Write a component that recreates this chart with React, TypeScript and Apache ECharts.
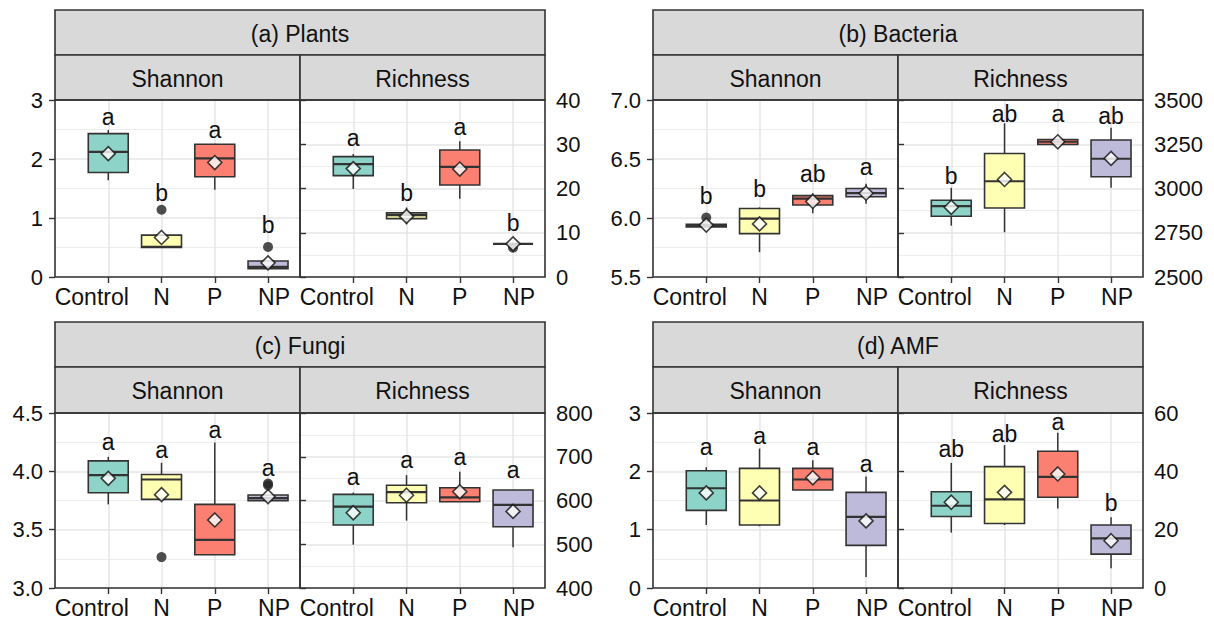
import React, { useEffect, useRef } from 'react';
import * as echarts from 'echarts';

const treatments = ['Control', 'N', 'P', 'NP'];
const fills = ['#8DD3C7', '#FFFFB3', '#FB8072', '#BEBADA'];
const metrics = ['Shannon', 'Richness'];
const panelTitles = ['(a) Plants', '(b) Bacteria', '(c) Fungi', '(d) AMF'];

// each box: [lower whisker, Q1, median, Q3, upper whisker]
const plantsShannonBox = [[1.64, 1.77, 2.12, 2.43, 2.49], [0.5, 0.5, 0.51, 0.71, 0.72], [1.48, 1.7, 2.01, 2.25, 2.26], [0.14, 0.14, 0.17, 0.27, 0.28]];
const plantsShannonMean = [2.09, 0.67, 1.94, 0.24];
const plantsShannonOut = [[2, 1.14], [4, 0.51]];
const plantsShannonLetter = ['a', 'b', 'a', 'b'];
const plantsShannonLetterY = [2.72, 1.43, 2.49, 0.88];

const plantsRichBox = [[19.9, 22.9, 25.5, 27.2, 27.8], [11.9, 13.2, 14.0, 14.5, 15.7], [17.7, 20.8, 24.9, 28.7, 30.7], [7.5, 7.5, 7.5, 7.5, 7.5]];
const plantsRichMean = [24.5, 13.7, 24.4, 7.5];
const plantsRichOut = [[4, 6.6]];
const plantsRichLetter = ['a', 'b', 'a', 'b'];
const plantsRichLetterY = [31.3, 19.0, 34.0, 12.1];

const bactShannonBox = [[5.925, 5.925, 5.936, 5.947, 5.947], [5.71, 5.868, 5.995, 6.08, 6.09], [6.04, 6.11, 6.165, 6.19, 6.21], [6.12, 6.18, 6.21, 6.25, 6.29]];
const bactShannonMean = [5.94, 5.95, 6.14, 6.21];
const bactShannonOut = [[1, 6.004]];
const bactShannonLetter = ['b', 'b', 'ab', 'a'];
const bactShannonLetterY = [6.185, 6.25, 6.377, 6.434];

const bactRichBox = [[2790, 2843, 2900, 2934, 3004], [2753, 2890, 3041, 3198, 3368], [3249, 3249, 3264, 3277, 3277], [3004, 3066, 3168, 3274, 3343]];
const bactRichMean = [2894, 3051, 3264, 3170];
const bactRichOut: number[][] = [];
const bactRichLetter = ['b', 'ab', 'a', 'ab'];
const bactRichLetterY = [3070, 3422, 3422, 3408];

const fungiShannonBox = [[3.717, 3.817, 3.967, 4.09, 4.124], [3.76, 3.76, 3.93, 3.973, 4.073], [3.285, 3.285, 3.413, 3.717, 4.247], [3.749, 3.749, 3.77, 3.797, 3.797]];
const fungiShannonMean = [3.94, 3.8, 3.583, 3.783];
const fungiShannonOut = [[2, 3.265], [4, 3.88], [4, 3.895]];
const fungiShannonLetter = ['a', 'a', 'a', 'a'];
const fungiShannonLetterY = [4.252, 4.181, 4.358, 4.025];

const fungiRichBox = [[499, 544, 586, 614, 618], [554, 595, 619, 635, 658], [597, 597, 607, 629, 666], [493, 540, 590, 624, 624]];
const fungiRichMean = [572, 612, 620, 575];
const fungiRichOut: number[][] = [];
const fungiRichLetter = ['a', 'a', 'a', 'a'];
const fungiRichLetterY = [654, 692, 700, 669];

const amfShannonBox = [[1.08, 1.33, 1.71, 2.01, 2.07], [1.06, 1.08, 1.5, 2.05, 2.39], [1.68, 1.68, 1.86, 2.05, 2.19], [0.19, 0.73, 1.22, 1.64, 1.91]];
const amfShannonMean = [1.63, 1.63, 1.89, 1.15];
const amfShannonOut: number[][] = [];
const amfShannonLetter = ['a', 'a', 'a', 'a'];
const amfShannonLetterY = [2.41, 2.6, 2.41, 2.12];

const amfRichBox = [[19.0, 24.5, 28.2, 33.0, 42.9], [21.6, 22.1, 30.4, 41.6, 49.0], [27.3, 31.1, 38.1, 46.9, 53.2], [6.8, 11.6, 17.0, 21.6, 24.3]];
const amfRichMean = [29.4, 32.8, 39.1, 16.2];
const amfRichOut: number[][] = [];
const amfRichLetter = ['ab', 'ab', 'a', 'b'];
const amfRichLetterY = [47.5, 52.7, 56.9, 29.0];

// y scales [min, max, interval]
const plantsShannonScale = [0, 3, 1];
const plantsRichScale = [0, 40, 10];
const bactShannonScale = [5.5, 7.0, 0.5];
const bactRichScale = [2500, 3500, 250];
const fungiShannonScale = [3.0, 4.5, 0.5];
const fungiRichScale = [400, 800, 100];
const amfShannonScale = [0, 3, 1];
const amfRichScale = [0, 60, 20];

const subPanels = [
  { box: plantsShannonBox, mean: plantsShannonMean, out: plantsShannonOut, letter: plantsShannonLetter, letterY: plantsShannonLetterY, scale: plantsShannonScale, dec: 0 },
  { box: plantsRichBox, mean: plantsRichMean, out: plantsRichOut, letter: plantsRichLetter, letterY: plantsRichLetterY, scale: plantsRichScale, dec: 0 },
  { box: bactShannonBox, mean: bactShannonMean, out: bactShannonOut, letter: bactShannonLetter, letterY: bactShannonLetterY, scale: bactShannonScale, dec: 1 },
  { box: bactRichBox, mean: bactRichMean, out: bactRichOut, letter: bactRichLetter, letterY: bactRichLetterY, scale: bactRichScale, dec: 0 },
  { box: fungiShannonBox, mean: fungiShannonMean, out: fungiShannonOut, letter: fungiShannonLetter, letterY: fungiShannonLetterY, scale: fungiShannonScale, dec: 1 },
  { box: fungiRichBox, mean: fungiRichMean, out: fungiRichOut, letter: fungiRichLetter, letterY: fungiRichLetterY, scale: fungiRichScale, dec: 0 },
  { box: amfShannonBox, mean: amfShannonMean, out: amfShannonOut, letter: amfShannonLetter, letterY: amfShannonLetterY, scale: amfShannonScale, dec: 0 },
  { box: amfRichBox, mean: amfRichMean, out: amfRichOut, letter: amfRichLetter, letterY: amfRichLetterY, scale: amfRichScale, dec: 0 },
];

// layout (pixels)
const panelX = [55, 653, 55, 653];
const rowTops = [
  { title: 10, sub: 55, plot: 100, bottom: 277 },
  { title: 322, sub: 367, plot: 413, bottom: 588 },
];
const subW = 245;

const FONT = '"Liberation Sans", Arial, Helvetica, sans-serif';
const DARK = '#333333';
const TEXT = '#111111';
const GRID_MAJOR = '#e6e6e6';
const GRID_MINOR = '#eeeeee';

function buildOption() {
  const grid: any[] = [];
  const xAxis: any[] = [];
  const yAxis: any[] = [];
  const series: any[] = [];
  const graphic: any[] = [];
  const labelRich = {
    c: { fontSize: 23, fontFamily: FONT, color: TEXT, padding: [0, 33, 0, 0] },
    n: { fontSize: 23, fontFamily: FONT, color: TEXT },
    np: { fontSize: 23, fontFamily: FONT, color: TEXT, padding: [0, 0, 0, 12] },
  };
  const richKeys = ['c', 'n', 'n', 'np'];

  for (let p = 0; p < 4; p++) {
    const row = rowTops[p < 2 ? 0 : 1];
    const x0 = panelX[p];
    const totalW = subW * 2;
    graphic.push({
      type: 'rect', z: 100,
      shape: { x: x0, y: row.title, width: totalW, height: row.sub - row.title },
      style: { fill: '#d9d9d9', stroke: DARK, lineWidth: 1.6 },
    });
    graphic.push({
      type: 'text', z: 101, x: x0 + totalW / 2, y: (row.title + row.sub) / 2 + 1,
      style: { text: panelTitles[p], fontSize: 23, fontFamily: FONT, fill: TEXT, align: 'center', verticalAlign: 'middle', textAlign: 'center', textVerticalAlign: 'middle' },
    });
    for (let s = 0; s < 2; s++) {
      const gi = p * 2 + s;
      const sp = subPanels[gi];
      const left = x0 + s * subW;
      graphic.push({
        type: 'rect', z: 100,
        shape: { x: left, y: row.sub, width: subW, height: row.plot - row.sub },
        style: { fill: '#d9d9d9', stroke: DARK, lineWidth: 1.6 },
      });
      graphic.push({
        type: 'text', z: 101, x: left + subW / 2, y: (row.sub + row.plot) / 2 + 1,
        style: { text: metrics[s], fontSize: 23, fontFamily: FONT, fill: TEXT, align: 'center', verticalAlign: 'middle', textAlign: 'center', textVerticalAlign: 'middle' },
      });
      graphic.push({
        type: 'rect', z: 100,
        shape: { x: left, y: row.plot, width: subW, height: row.bottom - row.plot },
        style: { fill: 'none', stroke: DARK, lineWidth: 1.6 },
      });

      grid.push({ left, top: row.plot, width: subW, height: row.bottom - row.plot, show: false });
      xAxis.push({
        type: 'value', gridIndex: gi, min: 0, max: 4.6, interval: 1,
        axisLine: { show: false },
        axisTick: { show: true, customValues: [1, 2, 3, 4], length: 6, lineStyle: { color: DARK, width: 1.4 } },
        axisLabel: {
          customValues: [1, 2, 3, 4],
          formatter: (v: number) => (Number.isInteger(v) && v >= 1 && v <= 4 ? `{${richKeys[v - 1]}|${treatments[v - 1]}}` : ''),
          fontSize: 23, fontFamily: FONT, color: TEXT, margin: 8,
          rich: labelRich,
        },
        splitLine: { show: true, lineStyle: { color: GRID_MAJOR, width: 1.5 } },
      });
      const [mn, mx, iv] = sp.scale;
      const dec = sp.dec;
      yAxis.push({
        type: 'value', gridIndex: gi, min: mn, max: mx, interval: iv,
        position: s === 0 ? 'left' : 'right',
        axisLine: { show: false },
        axisTick: { show: true, length: 6, lineStyle: { color: DARK, width: 1.4 } },
        axisLabel: {
          formatter: (v: number) => v.toFixed(dec),
          fontSize: 22, fontFamily: FONT, color: TEXT, margin: s === 0 ? 12 : 11,
        },
        splitLine: { show: true, lineStyle: { color: GRID_MAJOR, width: 1.5 } },
        minorTick: { show: false, splitNumber: 2 },
        minorSplitLine: { show: true, lineStyle: { color: GRID_MINOR, width: 1 } },
      });

      const boxData = sp.box.map((b, i) => [i + 1, ...b]);
      series.push({
        type: 'custom', xAxisIndex: gi, yAxisIndex: gi, z: 3,
        encode: { x: 0, y: [1, 2, 3, 4, 5] },
        data: boxData,
        renderItem: (params: any, api: any) => {
          const xv = api.value(0);
          const lo = api.coord([xv, api.value(1)]);
          const q1 = api.coord([xv, api.value(2)]);
          const med = api.coord([xv, api.value(3)]);
          const q3 = api.coord([xv, api.value(4)]);
          const hi = api.coord([xv, api.value(5)]);
          const hw = api.size([0.75, 0])[0] / 2;
          const fill = fills[Math.round(xv) - 1];
          return {
            type: 'group',
            children: [
              { type: 'line', shape: { x1: lo[0], y1: lo[1], x2: q1[0], y2: q1[1] }, style: { stroke: DARK, lineWidth: 1.5 } },
              { type: 'line', shape: { x1: q3[0], y1: q3[1], x2: hi[0], y2: hi[1] }, style: { stroke: DARK, lineWidth: 1.5 } },
              { type: 'rect', shape: { x: q3[0] - hw, y: q3[1], width: hw * 2, height: q1[1] - q3[1] }, style: { fill, stroke: DARK, lineWidth: 1.6 } },
              { type: 'line', shape: { x1: med[0] - hw, y1: med[1], x2: med[0] + hw, y2: med[1] }, style: { stroke: DARK, lineWidth: 2.2 } },
            ],
          };
        },
      });
      series.push({
        type: 'scatter', xAxisIndex: gi, yAxisIndex: gi, z: 4,
        symbol: 'circle', symbolSize: 10,
        itemStyle: { color: '#222222' },
        data: sp.out,
      });
      series.push({
        type: 'scatter', xAxisIndex: gi, yAxisIndex: gi, z: 5,
        symbol: 'diamond', symbolSize: 14,
        itemStyle: { color: '#ffffff', borderColor: '#111111', borderWidth: 1.6 },
        data: sp.mean.map((m, i) => [i + 1, m]),
      });
      const letters = sp.letter;
      series.push({
        type: 'custom', xAxisIndex: gi, yAxisIndex: gi, z: 6,
        data: sp.letterY.map((y, i) => [i + 1, y]),
        renderItem: (params: any, api: any) => {
          const pt = api.coord([api.value(0), api.value(1)]);
          return {
            type: 'text', x: pt[0], y: pt[1],
            style: { text: letters[params.dataIndex], fontSize: 23, fontFamily: FONT, fill: TEXT, align: 'center', verticalAlign: 'middle', textAlign: 'center', textVerticalAlign: 'middle' },
          };
        },
      });
    }
  }

  return {
    animation: false,
    backgroundColor: '#ffffff',
    grid, xAxis, yAxis, series, graphic,
  };
}

export default function App() {
  const ref = useRef<HTMLDivElement>(null);
  useEffect(() => {
    document.body.style.margin = '0';
    if (!ref.current) return;
    const chart = echarts.init(ref.current, undefined, { renderer: 'svg' });
    chart.setOption(buildOption() as any);
    return () => chart.dispose();
  }, []);
  return <div ref={ref} style={{ position: 'fixed', left: 0, top: 0, width: 1214, height: 625 }} />;
}
